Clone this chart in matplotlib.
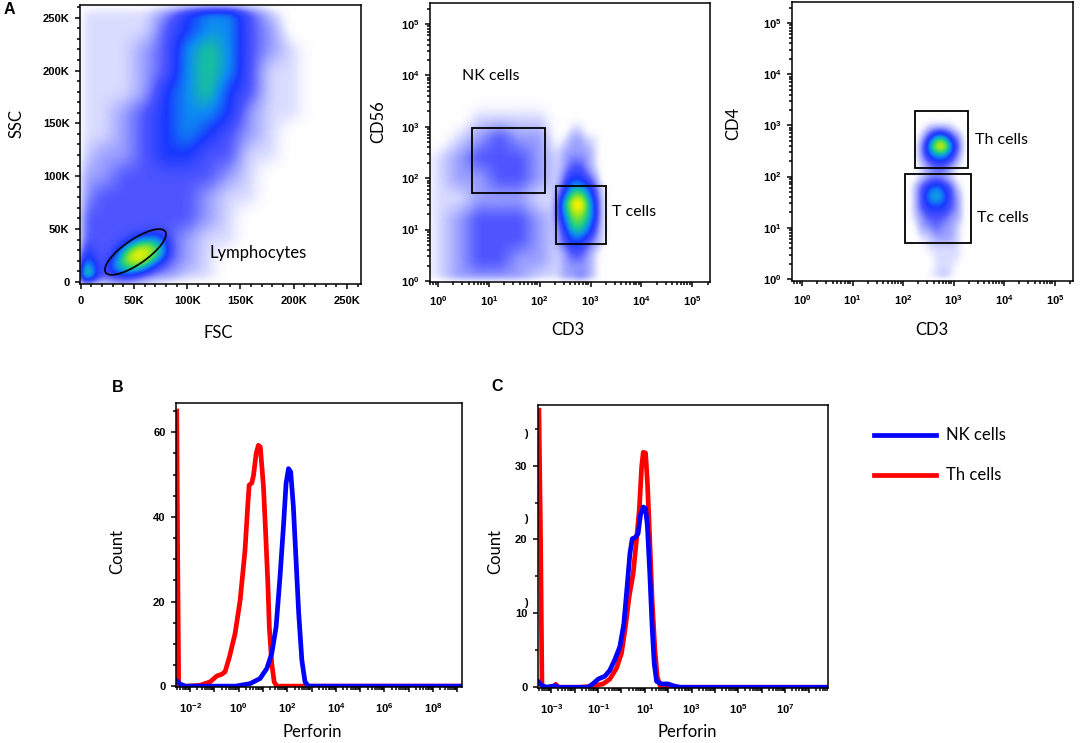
import numpy as np
import matplotlib
matplotlib.use("Agg")
import matplotlib.pyplot as plt
from matplotlib.colors import LinearSegmentedColormap
from matplotlib.patches import Ellipse, Rectangle

plt.rcParams['font.family'] = ['Liberation Sans', 'DejaVu Sans']
plt.rcParams['mathtext.fontset'] = 'custom'
plt.rcParams['mathtext.rm'] = 'Liberation Sans'
plt.rcParams['mathtext.bf'] = 'Liberation Sans:bold'

# ---------------- panel A1: FSC / SSC (units of 1000), density levels 0-10
band_x = [0, 20, 40, 60, 80, 100, 120, 140, 160, 180, 200, 220, 240, 260]
band_y = [0, 20, 40, 60, 80, 100, 120, 140, 160, 180, 200, 220, 240, 260]
band_level = [
    [4, 3, 2, 2, 2, 1, 1, 0, 0, 0, 0, 0, 0, 0],
    [3, 3, 3, 3, 3, 2, 1, 0, 0, 0, 0, 0, 0, 0],
    [3, 3, 3, 3, 3, 2, 1, 1, 0, 0, 0, 0, 0, 0],
    [3, 3, 3, 3, 3, 3, 2, 1, 0, 0, 0, 0, 0, 0],
    [2, 3, 3, 3, 3, 3, 2, 1, 1, 0, 0, 0, 0, 0],
    [2, 2, 3, 3, 3, 3, 3, 2, 1, 0, 0, 0, 0, 0],
    [1, 2, 2, 3, 4, 4, 3, 3, 1, 1, 0, 0, 0, 0],
    [1, 1, 2, 3, 4, 5, 4, 3, 2, 1, 0, 0, 0, 0],
    [1, 1, 2, 3, 4, 5, 5, 4, 2, 1, 1, 0, 0, 0],
    [1, 1, 1, 2, 4, 5, 6, 4, 3, 1, 1, 0, 0, 0],
    [1, 1, 1, 2, 3, 5, 6, 5, 3, 1, 1, 0, 0, 0],
    [1, 1, 1, 2, 3, 5, 6, 5, 3, 2, 1, 0, 0, 0],
    [1, 1, 1, 1, 3, 4, 5, 5, 3, 2, 0, 0, 0, 0],
    [1, 1, 1, 1, 2, 4, 5, 5, 3, 1, 0, 0, 0, 0],
]
lymph_x = [15, 25, 35, 45, 55, 65, 75, 85, 95]
lymph_y = [-5, 5, 15, 25, 35, 45, 55]
lymph_level = [
    [0, 0, 0, 0, 0, 0, 0, 0, 0],
    [0, 3, 4, 4, 3, 2, 0, 0, 0],
    [0, 4, 6, 7, 7, 5, 3, 0, 0],
    [0, 2, 5, 8, 9, 8, 6, 3, 0],
    [0, 0, 3, 5, 7, 7, 6, 3, 0],
    [0, 0, 0, 2, 3, 4, 4, 2, 0],
    [0, 0, 0, 0, 0, 0, 0, 0, 0],
]
debris_x = [0, 5, 10, 15, 20, 25, 30]
debris_y = [0, 8, 16, 24, 32, 40, 48, 56]
debris_level = [
    [10, 9, 6, 4, 2, 1, 0],
    [9, 8, 6, 4, 2, 1, 0],
    [7, 6, 5, 3, 1, 0, 0],
    [5, 5, 4, 2, 1, 0, 0],
    [4, 4, 3, 2, 1, 0, 0],
    [3, 3, 2, 1, 0, 0, 0],
    [2, 2, 1, 0, 0, 0, 0],
    [0, 0, 0, 0, 0, 0, 0],
]
lymph_gate = (51.5, 28.3, 68, 23, 35)   # centre x, centre y, width, height, angle

# ---------------- panel A2: CD3 / CD56 (log10 units)
dn_x = [-0.4, 0, 0.4, 0.8, 1.2, 1.6, 2.0, 2.4, 2.8]
dn_y = [0, 0.4, 0.8, 1.2, 1.6, 2.0, 2.4, 2.8, 3.2, 3.6]
dn_level = [
    [0, 1, 2, 2, 2, 2, 1, 1, 0],
    [0, 1, 2, 3, 3, 2, 2, 1, 0],
    [0, 1, 2, 3, 3, 3, 2, 1, 0],
    [0, 1, 2, 3, 3, 3, 2, 1, 0],
    [0, 1, 1, 2, 2, 2, 1, 1, 0],
    [0, 1, 2, 2, 3, 3, 2, 1, 0],
    [0, 1, 2, 3, 3, 3, 2, 1, 0],
    [0, 0, 1, 2, 3, 2, 2, 0, 0],
    [0, 0, 0, 1, 1, 1, 1, 0, 0],
    [0, 0, 0, 0, 0, 0, 0, 0, 0],
]
tcell_x = [2.2, 2.35, 2.5, 2.65, 2.8, 2.95, 3.1, 3.25, 3.4]
tcell_y = [0, 0.25, 0.5, 0.75, 1.0, 1.25, 1.5, 1.75, 2.0, 2.25, 2.5, 2.75, 3.0, 3.25]
tcell_level = [
    [0, 1, 2, 2, 3, 2, 1, 0, 0],
    [0, 1, 2, 2, 2, 2, 1, 0, 0],
    [0, 1, 2, 3, 3, 2, 1, 0, 0],
    [0, 2, 3, 4, 4, 3, 2, 1, 0],
    [0, 2, 4, 6, 6, 5, 3, 1, 0],
    [0, 3, 5, 7, 7, 6, 4, 1, 0],
    [0, 3, 6, 8, 9, 6, 4, 1, 0],
    [0, 2, 4, 6, 6, 5, 3, 1, 0],
    [0, 1, 3, 4, 4, 3, 2, 0, 0],
    [0, 1, 2, 3, 3, 2, 1, 0, 0],
    [0, 1, 2, 2, 2, 2, 1, 0, 0],
    [0, 0, 1, 2, 2, 1, 1, 0, 0],
    [0, 0, 0, 1, 1, 0, 0, 0, 0],
    [0, 0, 0, 0, 0, 0, 0, 0, 0],
]
nk_gate = (0.67, 2.1, 1.71, 2.98)     # x0, x1, y0, y1
t_gate = (2.32, 3.31, 0.72, 1.85)

# ---------------- panel A3: CD3 / CD4 (log10 units)
cd4_x = [2.05, 2.2, 2.35, 2.5, 2.65, 2.8, 2.95, 3.1, 3.25, 3.4]
cd4_y = [0, 0.2, 0.4, 0.6, 0.8, 1.0, 1.2, 1.4, 1.6, 1.8, 2.0, 2.2, 2.4, 2.6, 2.8, 3.0, 3.2]
cd4_level = [
    [0, 0, 0, 1, 1, 2, 1, 0, 0, 0],
    [0, 0, 0, 0, 1, 1, 1, 0, 0, 0],
    [0, 0, 0, 0, 1, 1, 1, 1, 0, 0],
    [0, 0, 0, 1, 1, 1, 1, 1, 0, 0],
    [0, 0, 1, 1, 2, 2, 2, 1, 0, 0],
    [0, 0, 2, 2, 3, 2, 2, 1, 0, 0],
    [0, 1, 2, 3, 3, 3, 2, 2, 0, 0],
    [0, 1, 3, 4, 4, 4, 3, 2, 0, 0],
    [0, 1, 3, 5, 6, 5, 3, 2, 0, 0],
    [0, 1, 3, 4, 5, 4, 3, 1, 0, 0],
    [0, 0, 1, 2, 2, 2, 1, 0, 0, 0],
    [0, 0, 1, 2, 3, 3, 2, 1, 0, 0],
    [0, 0, 2, 4, 5, 5, 4, 2, 0, 0],
    [0, 0, 2, 5, 8, 9, 5, 3, 0, 0],
    [0, 0, 1, 3, 5, 5, 3, 2, 0, 0],
    [0, 0, 0, 1, 1, 1, 1, 0, 0, 0],
    [0, 0, 0, 0, 0, 0, 0, 0, 0, 0],
]
th_gate = (2.23, 3.28, 2.17, 3.28)
tc_gate = (2.04, 3.34, 0.70, 2.05)

# ---------------- panel B histograms (log10 perforin, count)
th_b_logx = [-2.55, -2.51, -2.47, -2.14, -1.59, -1.18, -0.90, -0.70, -0.56, -0.38, -0.15, 0.06,
             0.26, 0.37, 0.43, 0.54, 0.61, 0.72, 0.81, 0.89, 1.02, 1.11, 1.20, 1.26, 1.36, 1.46,
             1.57, 9.19]
th_b_count = [65, 30, 0, 0, 0.2, 1.0, 2.4, 2.8, 3.4, 6.9, 12.4, 20.3, 32.1, 42.4, 47.5, 48.0,
              49.8, 55.0, 56.9, 56.5, 47.1, 36.1, 24.3, 14.0, 5.4, 1.0, 0, 0]
nk_b_logx = [-2.58, -2.41, -2.2, -0.13, 0.47, 0.88, 1.16, 1.36, 1.54, 1.70, 1.84, 1.95, 2.05,
             2.14, 2.25, 2.36, 2.47, 2.60, 2.73, 2.87, 9.19]
nk_b_count = [1.4, 0.5, 0, 0, 0.6, 1.8, 4.2, 7.7, 14.0, 25.8, 37.6, 47.9, 51.4, 50.6, 42.4,
              29.8, 17.2, 6.1, 1.0, 0, 0]

# ---------------- panel C histograms
th_c_logx = [-3.53, -3.46, -3.40, -2.90, -2.81, -2.72, -1.79, -1.36, -0.79, -0.5, -0.21, 0.0,
             0.17, 0.33, 0.5, 0.64, 0.76, 0.86, 0.93, 1.03, 1.11, 1.21, 1.31, 1.43, 1.53, 1.67,
             8.83]
th_c_count = [37.5, 20, 0, 0, 0.4, 0, 0, 0.1, 0.45, 1.1, 2.6, 4.6, 8.2, 12.3, 15.4, 19.9, 24.0,
              29.8, 31.8, 31.7, 27.6, 19.9, 11.8, 5.0, 1.4, 0, 0]
nk_c_logx = [-3.57, -3.43, -3.21, -2.86, -2.64, -1.43, -1.21, -1.0, -0.71, -0.5, -0.29, -0.07,
             0.1, 0.24, 0.36, 0.46, 0.6, 0.71, 0.81, 0.93, 1.03, 1.11, 1.21, 1.31, 1.4, 1.5,
             1.71, 2.0, 2.21, 2.5, 8.83]
nk_c_count = [0.8, 0.3, 0, 0.2, 0, 0, 0.5, 1.1, 1.5, 2.3, 3.7, 5.5, 8.6, 13.6, 18.1, 20.1,
              20.3, 20.8, 23.3, 24.4, 24.2, 21.7, 15.4, 8.2, 3.2, 0.8, 0.45, 0.45, 0.2, 0, 0]

W, H = 1082, 743
LABEL_FONT = 'Lato'
TICK_SIZE = 8

flow_cmap = LinearSegmentedColormap.from_list('flow', [
    (0.00, (1, 1, 1, 0)),
    (0.10, (0.85, 0.86, 1, 1)),
    (0.20, (0.60, 0.62, 1, 1)),
    (0.30, (0.30, 0.33, 1, 1)),
    (0.40, (0.10, 0.22, 1, 1)),
    (0.50, (0.05, 0.55, 0.95, 1)),
    (0.60, (0.10, 0.80, 0.55, 1)),
    (0.70, (0.55, 0.90, 0.15, 1)),
    (0.80, (1, 0.95, 0, 1)),
    (0.90, (1, 0.55, 0, 1)),
    (1.00, (1, 0, 0, 1)),
])


def upsample(xc, yc, grid, xf, yf):
    grid = np.asarray(grid, float)
    tmp = np.array([np.interp(xf, xc, row, left=0, right=0) for row in grid])
    return np.array([np.interp(yf, yc, tmp[:, j], left=0, right=0) for j in range(len(xf))]).T


def smooth(img, sigma):
    r = int(3 * sigma) + 1
    k = np.exp(-0.5 * (np.arange(-r, r + 1) / sigma) ** 2)
    k /= k.sum()
    p = np.pad(img, r, mode='edge')
    p = np.apply_along_axis(lambda v: np.convolve(v, k, mode='valid'), 1, p)
    p = np.apply_along_axis(lambda v: np.convolve(v, k, mode='valid'), 0, p)
    return p


def density(ax, layers, xlim, ylim, sigma):
    xf = np.linspace(xlim[0], xlim[1], 300)
    yf = np.linspace(ylim[0], ylim[1], 300)
    dens = np.zeros((300, 300))
    for xc, yc, grid in layers:
        dens = np.maximum(dens, upsample(xc, yc, grid, xf, yf))
    dens = smooth(dens, sigma)
    ax.imshow(dens, extent=(xlim[0], xlim[1], ylim[0], ylim[1]), origin='lower',
              cmap=flow_cmap, vmin=0, vmax=10, interpolation='bilinear', aspect='auto', zorder=0)
    ax.set_xlim(xlim)
    ax.set_ylim(ylim)


def log_ticks(axis, lo, hi, first_label, step):
    majors = list(range(int(np.ceil(lo)), int(np.floor(hi)) + 1))
    minors = [k + np.log10(m) for k in range(int(np.floor(lo)), int(np.ceil(hi)))
              for m in range(2, 10) if lo <= k + np.log10(m) <= hi]
    axis.set_ticks(majors)
    axis.set_ticks(minors, minor=True)
    axis.set_ticklabels([r'$\mathbf{10^{%d}}$' % k if (k - first_label) % step == 0 else ''
                         for k in majors])


def px_axes(l, t, r, b):
    ax = fig.add_axes([l / W, 1 - b / H, (r - l) / W, (b - t) / H])
    for s in ax.spines.values():
        s.set_linewidth(1.1)
    ax.tick_params(which='both', direction='out', width=1.1, labelsize=TICK_SIZE)
    ax.tick_params(which='major', length=3.5)
    ax.tick_params(which='minor', length=2)
    ax.tick_params(axis='x', pad=5)
    ax.tick_params(axis='y', pad=4)
    return ax


def label(x, y, s, rot=0, size=12, **kw):
    fig.text(x / W, 1 - y / H, s, ha='center', va='center', rotation=rot,
             fontfamily=LABEL_FONT, fontsize=size, **kw)


def gate(ax, g):
    ax.add_patch(Rectangle((g[0], g[2]), g[1] - g[0], g[3] - g[2], fill=False,
                           edgecolor='black', linewidth=1.3, zorder=3))


fig = plt.figure(figsize=(W / 100, H / 100), dpi=100)

# ---- A1
ax1 = px_axes(80, 5, 361, 284)
density(ax1, [(band_x, band_y, band_level), (lymph_x, lymph_y, lymph_level),
              (debris_x, debris_y, debris_level)], (-0.5, 263), (-2, 262), 6)
ax1.add_patch(Ellipse(lymph_gate[:2], lymph_gate[2], lymph_gate[3], angle=lymph_gate[4],
                      fill=False, edgecolor='black', linewidth=1.2, zorder=3))
ticks = [0, 50, 100, 150, 200, 250]
tick_lbl = ['0'] + ['%dK' % t for t in ticks[1:]]
ax1.set_xticks(ticks)
ax1.set_xticklabels(tick_lbl, fontweight='bold')
ax1.set_yticks(ticks)
ax1.set_yticklabels(tick_lbl, fontweight='bold')
ax1.set_xticks(np.arange(0, 261, 10), minor=True)
ax1.set_yticks(np.arange(0, 261, 10), minor=True)
ax1.text(121, 27, 'Lymphocytes', fontfamily=LABEL_FONT, fontsize=12, va='center', ha='left')

# ---- A2
ax2 = px_axes(430, 3, 710, 282)
density(ax2, [(dn_x, dn_y, dn_level), (tcell_x, tcell_y, tcell_level)],
        (-0.16, 5.35), (-0.02, 5.41), 4)
gate(ax2, nk_gate)
gate(ax2, t_gate)
log_ticks(ax2.xaxis, -0.16, 5.35, 0, 1)
log_ticks(ax2.yaxis, -0.02, 5.41, 0, 1)
ax2.text(0.47, 3.99, 'NK cells', fontfamily=LABEL_FONT, fontsize=11.5, va='center')
ax2.text(3.43, 1.34, 'T cells', fontfamily=LABEL_FONT, fontsize=11.5, va='center')

# ---- A3
ax3 = px_axes(792, 2, 1073, 281)
density(ax3, [(cd4_x, cd4_y, cd4_level)], (-0.2, 5.36), (-0.04, 5.41), 4)
gate(ax3, th_gate)
gate(ax3, tc_gate)
log_ticks(ax3.xaxis, -0.2, 5.36, 0, 1)
log_ticks(ax3.yaxis, -0.04, 5.41, 0, 1)
ax3.text(3.42, 2.71, 'Th cells', fontfamily=LABEL_FONT, fontsize=11.5, va='center')
ax3.text(3.46, 1.19, 'Tc cells', fontfamily=LABEL_FONT, fontsize=11.5, va='center')

# ---- B
axb = px_axes(176, 403, 462, 687)
axb.plot(th_b_logx, th_b_count, color='#ff0000', linewidth=3.4, solid_joinstyle='round')
axb.plot(nk_b_logx, nk_b_count, color='#0000ff', linewidth=3.4, solid_joinstyle='round')
axb.set_xlim(-2.58, 9.19)
axb.set_ylim(-0.2, 66.9)
log_ticks(axb.xaxis, -2.58, 9.19, -2, 2)
axb.set_yticks([0, 20, 40, 60])
axb.set_yticks(np.arange(0, 66, 5), minor=True)
axb.set_yticklabels(['0', '20', '40', '60'], fontweight='bold')
axb.tick_params(axis='x', pad=7)

# ---- C
axc = px_axes(538, 405, 828, 688)
lc_th, = axc.plot(th_c_logx, th_c_count, color='#ff0000', linewidth=3.4, solid_joinstyle='round')
lc_nk, = axc.plot(nk_c_logx, nk_c_count, color='#0000ff', linewidth=3.4, solid_joinstyle='round')
axc.set_xlim(-3.57, 8.83)
axc.set_ylim(-0.1, 38.2)
log_ticks(axc.xaxis, -3.57, 8.83, -3, 2)
axc.set_yticks([0, 10, 20, 30])
axc.set_yticks(np.arange(0, 38, 5), minor=True)
axc.set_yticklabels(['0', '10', '20', '30'], fontweight='bold')
axc.tick_params(axis='x', pad=7)
for yv in (34.3, 22.8, 11.4):
    axc.text(-0.035, yv, ')', transform=axc.get_yaxis_transform(), ha='right', va='center',
             fontsize=TICK_SIZE, fontweight='bold')

fig.legend([lc_nk, lc_th], ['NK cells', 'Th cells'], loc='upper left',
           bbox_to_anchor=(866 / W, 1 - 419 / H), frameon=False, borderpad=0,
           handlelength=3.7, handletextpad=0.6, labelspacing=1.45,
           prop={'family': LABEL_FONT, 'size': 12})

# ---- axis labels and panel letters
label(16, 124, 'SSC', rot=90)
label(218, 333, 'FSC')
label(378, 122, 'CD56', rot=90)
label(568, 330, 'CD3')
label(733, 123, 'CD4', rot=90)
label(932, 330, 'CD3')
label(117, 551, 'Count', rot=90)
label(312, 732, 'Perforin')
label(495, 551, 'Count', rot=90)
label(687, 732, 'Perforin')
for x, y, s in [(9, 10, 'A'), (118, 388, 'B'), (497, 387, 'C')]:
    fig.text(x / W, 1 - y / H, s, ha='center', va='center', fontsize=11.5, fontweight='bold')

fig.savefig('out.png', dpi=100)
